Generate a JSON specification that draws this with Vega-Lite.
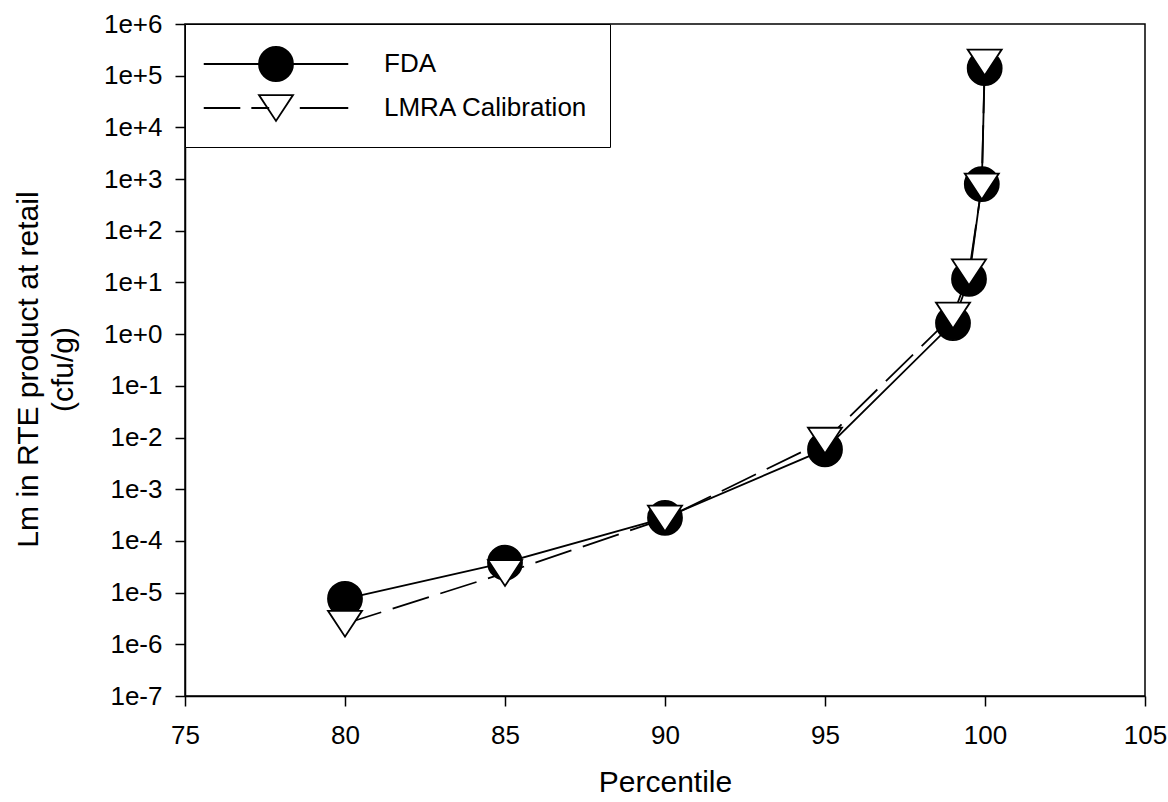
{
  "$schema": "https://vega.github.io/schema/vega-lite/v6.json",
  "width": 960,
  "height": 672,
  "autosize": "none",
  "padding": {"left": 185, "top": 24, "right": 23, "bottom": 106},
  "background": "white",
  "config": {
    "font": "Liberation Sans",
    "view": {"stroke": "black", "strokeWidth": 1.5},
    "axis": {
      "grid": false,
      "domainColor": "black",
      "domainWidth": 1.5,
      "tickColor": "black",
      "tickWidth": 1.5,
      "tickSize": 10,
      "labelFont": "Liberation Sans",
      "labelFontSize": 26,
      "labelColor": "black",
      "labelFlush": false,
      "titleFont": "Liberation Sans",
      "titleFontSize": 30,
      "titleFontWeight": "normal",
      "titleColor": "black"
    }
  },
  "data": {
    "values": [
      {"series": "FDA", "p": 80, "v": 7.6e-6},
      {"series": "FDA", "p": 85, "v": 3.8e-5},
      {"series": "FDA", "p": 90, "v": 2.8e-4},
      {"series": "FDA", "p": 95, "v": 5.9e-3},
      {"series": "FDA", "p": 99, "v": 1.64},
      {"series": "FDA", "p": 99.5, "v": 11.7},
      {"series": "FDA", "p": 99.9, "v": 800},
      {"series": "FDA", "p": 99.99, "v": 1.4e5},
      {"series": "LMRA Calibration", "p": 80, "v": 2.5e-6},
      {"series": "LMRA Calibration", "p": 85, "v": 2.4e-5},
      {"series": "LMRA Calibration", "p": 90, "v": 2.7e-4},
      {"series": "LMRA Calibration", "p": 95, "v": 8.7e-3},
      {"series": "LMRA Calibration", "p": 99, "v": 2.3},
      {"series": "LMRA Calibration", "p": 99.5, "v": 15.7},
      {"series": "LMRA Calibration", "p": 99.9, "v": 720},
      {"series": "LMRA Calibration", "p": 99.99, "v": 1.8e5}
    ]
  },
  "encoding": {
    "x": {
      "field": "p",
      "type": "quantitative",
      "scale": {"domain": [75, 105], "nice": false, "zero": false},
      "axis": {
        "values": [75, 80, 85, 90, 95, 100, 105],
        "title": "Percentile",
        "labelPadding": 16,
        "titleBaseline": "alphabetic",
        "titleY": 95
      }
    },
    "y": {
      "field": "v",
      "type": "quantitative",
      "scale": {"type": "log", "domain": [1e-7, 1e6], "nice": false},
      "axis": {
        "values": [1e-7, 1e-6, 1e-5, 1e-4, 1e-3, 1e-2, 1e-1, 1, 10, 100, 1000, 1e4, 1e5, 1e6],
        "format": ".0e",
        "labelPadding": 13,
        "title": ["Lm in RTE product at retail", "(cfu/g)"],
        "titleLineHeight": 35,
        "titleBaseline": "alphabetic",
        "titleAlign": "center",
        "titleAngle": -90,
        "titleX": -148,
        "titleY": 345
      }
    }
  },
  "layer": [
    {
      "transform": [{"filter": "datum.series === 'FDA'"}],
      "mark": {"type": "line", "color": "black", "strokeWidth": 1.8},
      "encoding": {}
    },
    {
      "transform": [{"filter": "datum.series === 'LMRA Calibration'"}],
      "mark": {"type": "line", "color": "black", "strokeWidth": 1.8, "strokeDash": [38, 12]},
      "encoding": {}
    },
    {
      "transform": [{"filter": "datum.series === 'FDA'"}],
      "mark": {"type": "point", "shape": "circle", "filled": true, "fill": "black", "size": 1156, "stroke": "black", "strokeWidth": 1.8, "opacity": 1},
      "encoding": {}
    },
    {
      "transform": [{"filter": "datum.series === 'LMRA Calibration'"}],
      "mark": {"type": "point", "shape": "M-1,-0.76L1,-0.76L0,0.76Z", "filled": true, "fill": "white", "size": 1156, "stroke": "black", "strokeWidth": 1.8, "opacity": 1},
      "encoding": {}
    },
    {
      "mark": {"type": "point", "filled": true, "size": 1156, "stroke": "black", "strokeWidth": 1.8, "opacity": 0},
      "encoding": {
        "fill": {
          "field": "series",
          "type": "nominal",
          "scale": {"domain": ["FDA", "LMRA Calibration"], "range": ["black", "white"]},
          "legend": {
            "title": null,
            "orient": "none",
            "legendX": 0,
            "legendY": 0,
            "direction": "vertical",
            "strokeColor": "black",
            "fillColor": "white",
            "padding": 22,
            "rowPadding": 5,
            "symbolSize": 1156,
            "symbolStrokeWidth": 1.8,
            "symbolStrokeColor": "black",
            "symbolOpacity": 1,
            "symbolOffset": 51,
            "labelOffset": 90,
            "labelFontSize": 26,
            "labelFont": "Liberation Sans",
            "labelColor": "black",
            "labelLimit": 400
          }
        },
        "shape": {
          "field": "series",
          "type": "nominal",
          "scale": {
            "domain": ["FDA", "LMRA Calibration"],
            "range": [
              "M-4.25,0L4.25,0M1,0A1,1,0,1,1,-1,0A1,1,0,1,1,1,0M0.91,0A0.91,0.91,0,1,1,-0.91,0A0.91,0.91,0,1,1,0.91,0M0.82,0A0.82,0.82,0,1,1,-0.82,0A0.82,0.82,0,1,1,0.82,0M0.73,0A0.73,0.73,0,1,1,-0.73,0A0.73,0.73,0,1,1,0.73,0M0.64,0A0.64,0.64,0,1,1,-0.64,0A0.64,0.64,0,1,1,0.64,0M0.55,0A0.55,0.55,0,1,1,-0.55,0A0.55,0.55,0,1,1,0.55,0M0.46,0A0.46,0.46,0,1,1,-0.46,0A0.46,0.46,0,1,1,0.46,0M0.37,0A0.37,0.37,0,1,1,-0.37,0A0.37,0.37,0,1,1,0.37,0M0.28,0A0.28,0.28,0,1,1,-0.28,0A0.28,0.28,0,1,1,0.28,0M0.19,0A0.19,0.19,0,1,1,-0.19,0A0.19,0.19,0,1,1,0.19,0M0.1,0A0.1,0.1,0,1,1,-0.1,0A0.1,0.1,0,1,1,0.1,0M0.03,0A0.03,0.03,0,1,1,-0.03,0A0.03,0.03,0,1,1,0.03,0",
              "M-4.25,0L-2.1,0M-1.45,0L-0.4,0M1.4,0L4.25,0M-1,-0.76L1,-0.76L0,0.76Z"
            ]
          }
        }
      }
    }
  ]
}
